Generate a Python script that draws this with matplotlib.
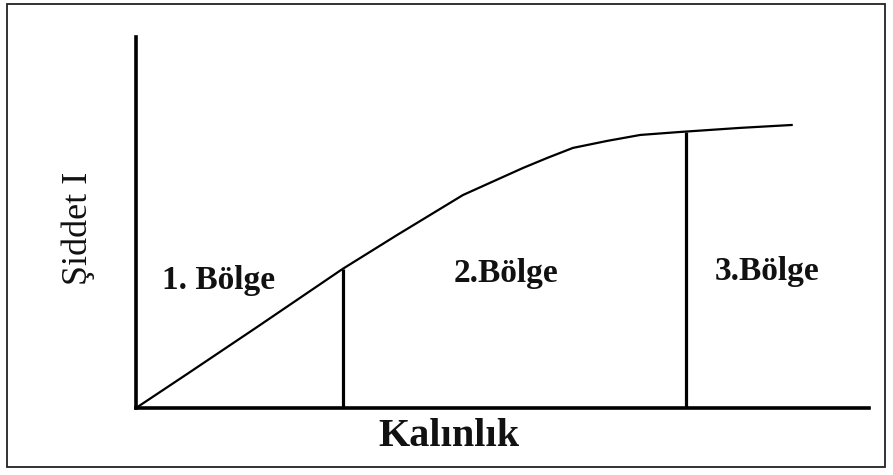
import numpy as np
import matplotlib
matplotlib.use("Agg")
import matplotlib.pyplot as plt
from matplotlib.patches import Rectangle

# Data
thickness = [0.0, 0.70, 1.65, 2.82, 3.56, 4.01, 4.46, 4.92, 5.28, 5.61, 5.96,
             6.43, 6.88, 7.42, 8.24, 8.96]
intensity = [0.0, 0.92, 2.18, 3.75, 4.66, 5.20, 5.74, 6.15, 6.47, 6.74, 7.01,
             7.20, 7.36, 7.44, 7.55, 7.63]
boundaries = [2.82, 7.50]
region_labels = ["1. Bölge", "2.Bölge", "3.Bölge"]
region_label_pos = [(1.13, 3.43), (5.05, 3.62), (8.61, 3.67)]
x_label = "Kalınlık"
y_label = "Şiddet I"

W, H = 893, 475
fig = plt.figure(figsize=(W / 100, H / 100), dpi=100)
fig.patch.set_facecolor("white")

# outer border
fig.patches.append(Rectangle((7 / W, (H - 467) / H), (885 - 7) / W, (467 - 4) / H,
                             transform=fig.transFigure, fill=False,
                             edgecolor="#222222", linewidth=1.3))

ax = fig.add_axes([136 / W, (H - 408) / H, (869 - 136) / W, (408 - 37) / H])
ax.set_xlim(0, 10)
ax.set_ylim(0, 10)
for s in ["top", "right"]:
    ax.spines[s].set_visible(False)
for s in ["left", "bottom"]:
    ax.spines[s].set_linewidth(2.6)
    ax.spines[s].set_color("black")
ax.set_xticks([])
ax.set_yticks([])

ax.plot(thickness, intensity, color="black", linewidth=1.6,
        solid_capstyle="butt", solid_joinstyle="round")
for b in boundaries:
    top = np.interp(b, thickness, intensity)
    ax.plot([b, b], [0, top], color="black", linewidth=2.3, solid_capstyle="butt")

serif = ["Liberation Serif", "DejaVu Serif"]
for lbl, (x, y) in zip(region_labels, region_label_pos):
    ax.text(x, y, lbl, ha="center", va="center", fontsize=24,
            family=serif, fontweight="bold", color="#111111")

fig.text(449 / W, (H - 437) / H, x_label, ha="center", va="center",
         fontsize=29, family=serif, fontweight="bold", color="#111111")
fig.text(78 / W, (H - 228) / H, y_label, ha="center", va="center",
         rotation=90, fontsize=26, family=serif, color="#111111")

fig.savefig("out.png", dpi=100, facecolor="white")
